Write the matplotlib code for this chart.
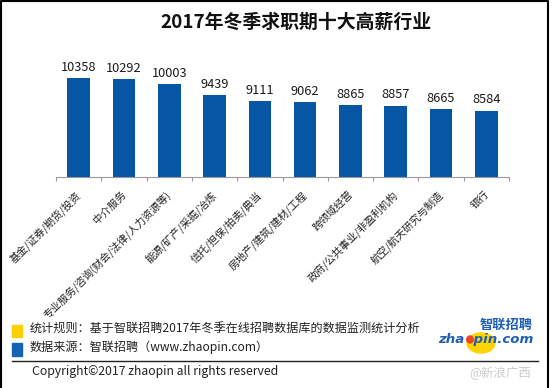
import matplotlib
matplotlib.use('Agg')
from matplotlib import pyplot as plt
from matplotlib.patches import Rectangle, Ellipse

plt.rcParams['font.family'] = ['Noto Sans CJK SC', 'DejaVu Sans']

# data
industries = ['基金/证券/期货/投资', '中介服务', '专业服务/咨询(财会/法律/人力资源等)',
              '能源/矿产/采掘/冶炼', '信托/担保/拍卖/典当', '房地产/建筑/建材/工程',
              '跨领域经营', '政府/公共事业/非盈利机构', '航空/航天研究与制造', '银行']
salary = [10358, 10292, 10003, 9439, 9111, 9062, 8865, 8857, 8665, 8584]
title = '2017年冬季求职期十大高薪行业'
note_rule = '统计规则：基于智联招聘2017年冬季在线招聘数据库的数据监测统计分析'
note_src = '数据来源：智联招聘（www.zhaopin.com）'
copyright_txt = 'Copyright©2017 zhaopin all rights reserved'

W, H = 552, 388
def fx(x):
    return x / W
def fy(y):
    return 1 - y / H

bar_blue = '#0656A6'
fig = plt.figure(figsize=(W / 100, H / 100), dpi=100)

ax = fig.add_axes([fx(56), fy(176.7), fx(509) - fx(56), fy(60) - fy(176.7)])
x = list(range(len(industries)))
bars = ax.bar(x, salary, width=0.5, color=bar_blue)
ax.bar_label(bars, labels=[str(v) for v in salary], padding=3, fontsize=9.2, color='#1a1a1a')
ax.set_xlim(-0.5, len(industries) - 0.5)
ax.set_ylim(5000, 11332)

for s in ['top', 'right', 'left']:
    ax.spines[s].set_visible(False)
ax.spines['bottom'].set_color('#9a9a9a')
ax.spines['bottom'].set_linewidth(0.8)
ax.set_yticks([])

# tick marks between the bars
ax.set_xticks([i - 0.5 for i in range(len(industries) + 1)])
ax.set_xticklabels([])
ax.tick_params(axis='x', length=3, color='#9a9a9a', width=0.8)

# category labels, rotated, ending just right of the bar centre
for i, name in zip(x, industries):
    ax.annotate(name, xy=(i, 0), xycoords=('data', 'axes fraction'),
                xytext=(3, -9), textcoords='offset points',
                rotation=45, ha='right', va='top', fontsize=7.5, color='#222222',
                annotation_clip=False)

fig.text(fx(295.5), fy(22), title, ha='center', va='center', fontsize=13.6, fontweight='bold', color='#111111')

# footer
fig.patches.append(Rectangle((fx(12), fy(337)), fx(10), fy(325) - fy(337), color='#FFD000', transform=fig.transFigure))
fig.patches.append(Rectangle((fx(12), fy(356)), fx(10), fy(343) - fy(356), color='#1563B3', transform=fig.transFigure))
fig.text(fx(30), fy(328), note_rule, ha='left', va='center', fontsize=8.7, color='#222222')
fig.text(fx(30), fy(347), note_src, ha='left', va='center', fontsize=8.7, color='#222222')
fig.add_artist(plt.Line2D([fx(12), fx(538)], [fy(361), fy(361)], color='#222222', lw=1.0, transform=fig.transFigure))
fig.text(fx(32), fy(372), copyright_txt, ha='left', va='center', fontsize=8.8, color='#222222')

# logo
fig.patches.append(Ellipse((fx(481), fy(343)), fx(28), fy(333) - fy(353), color='#FFD400', transform=fig.transFigure))
fig.text(fx(506), fy(325), '智联招聘', ha='center', va='center', fontsize=9.5, fontweight='bold',
         style='italic', color='#1E5FB4')
fig.text(fx(486), fy(339), 'zha  pin.com', ha='center', va='center', fontsize=9.6, fontweight='bold',
         style='italic', color='#1E5FB4', family=['DejaVu Sans'])
fig.patches.append(Ellipse((fx(470), fy(339.5)), fx(6.5), fy(336) - fy(343), color='#E8452C', transform=fig.transFigure))

# watermark
fig.text(fx(500), fy(373), '@新浪广西', ha='center', va='center', fontsize=9, color='#cccccc')

# frame
fig.add_artist(plt.Line2D([fx(1), fx(1), fx(548), fx(548)], [fy(390), fy(1), fy(1), fy(390)],
                          color='black', lw=1.5, transform=fig.transFigure))

fig.savefig('out.png', dpi=100)
